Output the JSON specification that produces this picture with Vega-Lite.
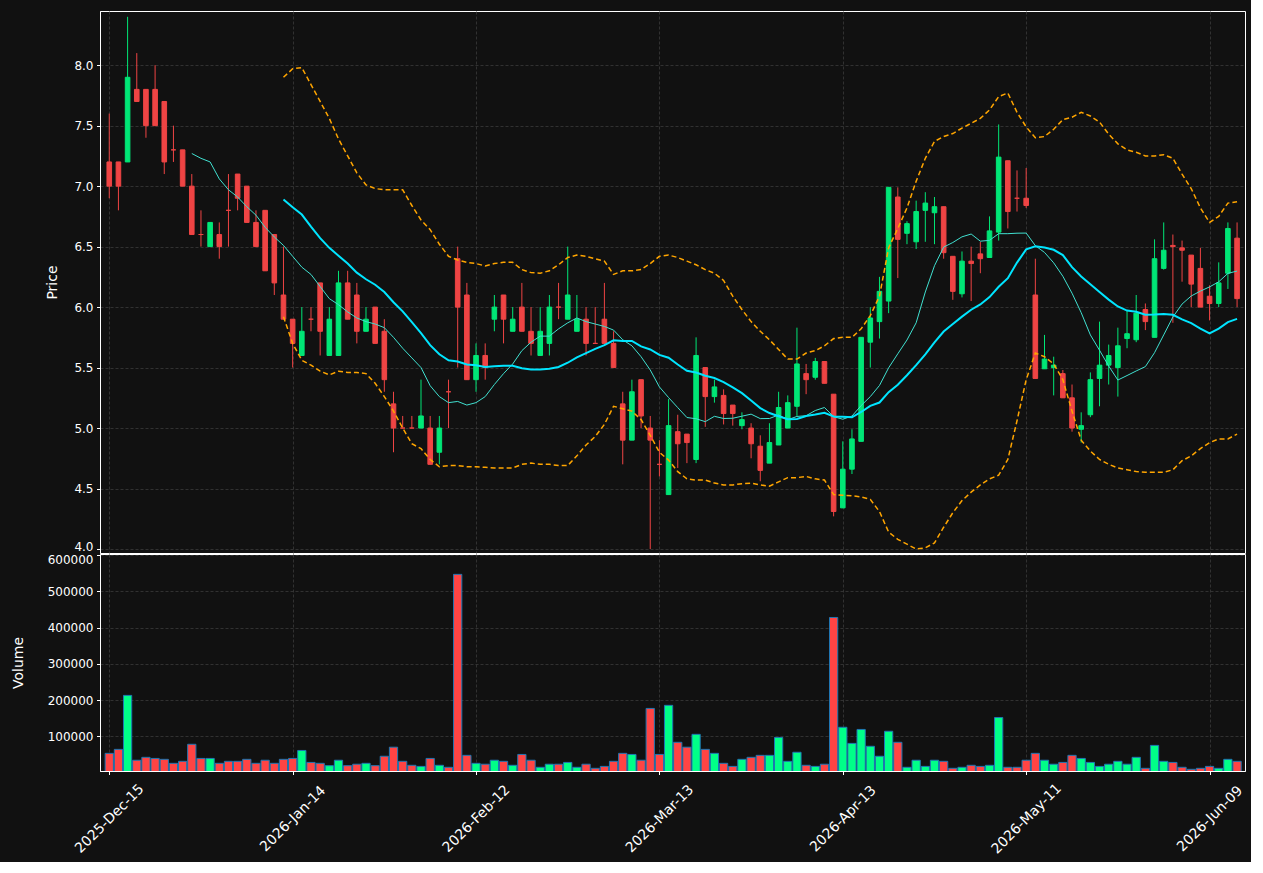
{
  "$schema": "https://vega.github.io/schema/vega-lite/v6.json",
  "background": "#111111",
  "padding": {"left": 10, "top": 10, "right": 5, "bottom": 5},
  "spacing": 1,
  "bounds": "flush",
  "config": {
    "view": {"stroke": "#ffffff", "strokeWidth": 1},
    "axis": {
      "labelColor": "#ffffff", "titleColor": "#ffffff",
      "labelFont": "DejaVu Sans", "titleFont": "DejaVu Sans",
      "labelFontSize": 12, "titleFontSize": 14, "titleFontWeight": "normal",
      "tickColor": "#ffffff", "tickSize": 3.5, "labelPadding": 3.5,
      "domainColor": "#ffffff", "gridColor": "#3a3a3a", "gridDash": [3, 2], "gridWidth": 0.8
    }
  },
  "datasets": {
    "k": [
      {"i":0,"o":7.2,"h":7.6,"l":6.9,"c":7.0,"v":53000},
      {"i":1,"o":7.2,"h":7.2,"l":6.8,"c":7.0,"v":64000},
      {"i":2,"o":7.2,"h":8.4,"l":7.2,"c":7.9,"v":213000},
      {"i":3,"o":7.8,"h":8.1,"l":7.7,"c":7.7,"v":34000},
      {"i":4,"o":7.8,"h":7.8,"l":7.4,"c":7.5,"v":42000},
      {"i":5,"o":7.8,"h":8.0,"l":7.5,"c":7.5,"v":39000},
      {"i":6,"o":7.7,"h":7.7,"l":7.1,"c":7.2,"v":36500},
      {"i":7,"o":7.3,"h":7.5,"l":7.2,"c":7.3,"v":25500},
      {"i":8,"o":7.3,"h":7.3,"l":7.0,"c":7.0,"v":31000},
      {"i":9,"o":7.0,"h":7.1,"l":6.6,"c":6.6,"v":78000,"ma10":7.27},
      {"i":10,"o":6.6,"h":6.8,"l":6.5,"c":6.6,"v":39000,"ma10":7.23},
      {"i":11,"o":6.5,"h":6.7,"l":6.5,"c":6.7,"v":39000,"ma10":7.2},
      {"i":12,"o":6.6,"h":6.7,"l":6.4,"c":6.5,"v":25500,"ma10":7.06},
      {"i":13,"o":6.8,"h":7.1,"l":6.5,"c":6.8,"v":31000,"ma10":6.97},
      {"i":14,"o":7.1,"h":7.1,"l":6.8,"c":6.9,"v":31000,"ma10":6.91},
      {"i":15,"o":7.0,"h":7.0,"l":6.7,"c":6.7,"v":36500,"ma10":6.83},
      {"i":16,"o":6.7,"h":6.8,"l":6.5,"c":6.5,"v":25500,"ma10":6.76},
      {"i":17,"o":6.8,"h":6.8,"l":6.3,"c":6.3,"v":34000,"ma10":6.66},
      {"i":18,"o":6.6,"h":6.6,"l":6.1,"c":6.2,"v":25500,"ma10":6.58},
      {"i":19,"o":6.1,"h":6.5,"l":5.9,"c":5.9,"v":36500,"ma10":6.51,"ma20":6.89,"up":7.9,"lo":5.92},
      {"i":20,"o":5.9,"h":5.9,"l":5.5,"c":5.7,"v":39000,"ma10":6.42,"ma20":6.825,"up":7.97,"lo":5.7},
      {"i":21,"o":5.6,"h":6.0,"l":5.6,"c":5.8,"v":61000,"ma10":6.33,"ma20":6.765,"up":7.98,"lo":5.56},
      {"i":22,"o":5.9,"h":6.0,"l":5.8,"c":5.9,"v":28000,"ma10":6.27,"ma20":6.665,"up":7.84,"lo":5.52},
      {"i":23,"o":6.2,"h":6.2,"l":5.6,"c":5.8,"v":25500,"ma10":6.17,"ma20":6.57,"up":7.7,"lo":5.47},
      {"i":24,"o":5.6,"h":6.0,"l":5.6,"c":5.9,"v":19000,"ma10":6.07,"ma20":6.49,"up":7.56,"lo":5.44},
      {"i":25,"o":5.6,"h":6.3,"l":5.6,"c":6.2,"v":34000,"ma10":6.02,"ma20":6.425,"up":7.39,"lo":5.47},
      {"i":26,"o":6.2,"h":6.3,"l":5.9,"c":5.9,"v":19000,"ma10":5.96,"ma20":6.36,"up":7.25,"lo":5.46},
      {"i":27,"o":6.1,"h":6.2,"l":5.7,"c":5.8,"v":23000,"ma10":5.91,"ma20":6.285,"up":7.11,"lo":5.46},
      {"i":28,"o":5.8,"h":6.0,"l":5.8,"c":5.9,"v":25500,"ma10":5.88,"ma20":6.23,"up":7.01,"lo":5.45},
      {"i":29,"o":6.0,"h":6.0,"l":5.7,"c":5.7,"v":19000,"ma10":5.86,"ma20":6.185,"up":6.98,"lo":5.37},
      {"i":30,"o":5.8,"h":5.9,"l":5.3,"c":5.4,"v":45000,"ma10":5.83,"ma20":6.125,"up":6.97,"lo":5.26},
      {"i":31,"o":5.2,"h":5.3,"l":4.8,"c":5.0,"v":70000,"ma10":5.75,"ma20":6.04,"up":6.97,"lo":5.14},
      {"i":32,"o":5.0,"h":5.1,"l":5.0,"c":5.0,"v":31000,"ma10":5.66,"ma20":5.965,"up":6.97,"lo":5.0},
      {"i":33,"o":5.0,"h":5.1,"l":5.0,"c":5.0,"v":20000,"ma10":5.58,"ma20":5.875,"up":6.84,"lo":4.87},
      {"i":34,"o":5.0,"h":5.4,"l":5.0,"c":5.1,"v":17000,"ma10":5.5,"ma20":5.785,"up":6.72,"lo":4.83},
      {"i":35,"o":5.0,"h":5.1,"l":4.7,"c":4.7,"v":39000,"ma10":5.35,"ma20":5.685,"up":6.64,"lo":4.74},
      {"i":36,"o":4.8,"h":5.1,"l":4.7,"c":5.0,"v":20000,"ma10":5.26,"ma20":5.61,"up":6.52,"lo":4.68},
      {"i":37,"o":5.3,"h":5.4,"l":5.0,"c":5.3,"v":14500,"ma10":5.21,"ma20":5.56,"up":6.42,"lo":4.69},
      {"i":38,"o":6.4,"h":6.5,"l":5.5,"c":6.0,"v":547000,"ma10":5.22,"ma20":5.55,"up":6.39,"lo":4.69},
      {"i":39,"o":6.1,"h":6.2,"l":5.4,"c":5.4,"v":47500,"ma10":5.19,"ma20":5.525,"up":6.37,"lo":4.68},
      {"i":40,"o":5.4,"h":5.7,"l":5.3,"c":5.6,"v":25500,"ma10":5.21,"ma20":5.52,"up":6.36,"lo":4.68},
      {"i":41,"o":5.6,"h":5.7,"l":5.4,"c":5.5,"v":23000,"ma10":5.26,"ma20":5.505,"up":6.34,"lo":4.675},
      {"i":42,"o":5.9,"h":6.1,"l":5.8,"c":6.0,"v":34000,"ma10":5.36,"ma20":5.51,"up":6.36,"lo":4.67},
      {"i":43,"o":6.1,"h":6.1,"l":5.7,"c":5.9,"v":31000,"ma10":5.45,"ma20":5.515,"up":6.37,"lo":4.67},
      {"i":44,"o":5.8,"h":6.0,"l":5.8,"c":5.9,"v":20000,"ma10":5.53,"ma20":5.515,"up":6.37,"lo":4.67},
      {"i":45,"o":6.0,"h":6.2,"l":5.8,"c":5.8,"v":50000,"ma10":5.64,"ma20":5.495,"up":6.31,"lo":4.7},
      {"i":46,"o":5.8,"h":6.0,"l":5.6,"c":5.7,"v":34000,"ma10":5.71,"ma20":5.485,"up":6.285,"lo":4.71},
      {"i":47,"o":5.6,"h":6.0,"l":5.6,"c":5.8,"v":14500,"ma10":5.76,"ma20":5.485,"up":6.28,"lo":4.7},
      {"i":48,"o":5.7,"h":6.1,"l":5.6,"c":6.0,"v":23000,"ma10":5.76,"ma20":5.49,"up":6.3,"lo":4.7},
      {"i":49,"o":6.0,"h":6.2,"l":5.9,"c":6.0,"v":23000,"ma10":5.82,"ma20":5.505,"up":6.35,"lo":4.69},
      {"i":50,"o":5.9,"h":6.5,"l":5.9,"c":6.1,"v":28000,"ma10":5.87,"ma20":5.54,"up":6.41,"lo":4.69},
      {"i":51,"o":5.8,"h":6.1,"l":5.8,"c":5.9,"v":14500,"ma10":5.91,"ma20":5.585,"up":6.43,"lo":4.77},
      {"i":52,"o":5.9,"h":6.0,"l":5.6,"c":5.7,"v":23000,"ma10":5.88,"ma20":5.62,"up":6.42,"lo":4.86},
      {"i":53,"o":5.7,"h":6.0,"l":5.7,"c":5.7,"v":11700,"ma10":5.86,"ma20":5.655,"up":6.4,"lo":4.93},
      {"i":54,"o":5.9,"h":6.2,"l":5.7,"c":5.7,"v":17000,"ma10":5.84,"ma20":5.685,"up":6.38,"lo":5.03},
      {"i":55,"o":5.7,"h":5.8,"l":5.5,"c":5.5,"v":31000,"ma10":5.81,"ma20":5.725,"up":6.27,"lo":5.18},
      {"i":56,"o":5.2,"h":5.3,"l":4.7,"c":4.9,"v":53000,"ma10":5.73,"ma20":5.72,"up":6.3,"lo":5.16},
      {"i":57,"o":4.9,"h":5.4,"l":4.9,"c":5.3,"v":50000,"ma10":5.68,"ma20":5.72,"up":6.3,"lo":5.14},
      {"i":58,"o":5.4,"h":5.4,"l":5.0,"c":5.1,"v":34000,"ma10":5.59,"ma20":5.675,"up":6.31,"lo":5.07},
      {"i":59,"o":5.0,"h":5.1,"l":4.0,"c":4.9,"v":177000,"ma10":5.48,"ma20":5.65,"up":6.36,"lo":4.94},
      {"i":60,"o":4.7,"h":4.9,"l":4.6,"c":4.7,"v":50000,"ma10":5.34,"ma20":5.605,"up":6.42,"lo":4.8},
      {"i":61,"o":4.45,"h":5.24,"l":4.45,"c":5.02,"v":185500,"ma10":5.252,"ma20":5.581,"up":6.43,"lo":4.735},
      {"i":62,"o":4.97,"h":5.11,"l":4.67,"c":4.87,"v":83500,"ma10":5.169,"ma20":5.525,"up":6.41,"lo":4.64},
      {"i":63,"o":4.95,"h":4.95,"l":4.71,"c":4.88,"v":70000,"ma10":5.087,"ma20":5.474,"up":6.38,"lo":4.58},
      {"i":64,"o":4.74,"h":5.75,"l":4.71,"c":5.6,"v":105500,"ma10":5.077,"ma20":5.459,"up":6.35,"lo":4.57},
      {"i":65,"o":5.5,"h":5.5,"l":5.01,"c":5.26,"v":64000,"ma10":5.053,"ma20":5.432,"up":6.31,"lo":4.57},
      {"i":66,"o":5.26,"h":5.4,"l":5.21,"c":5.34,"v":53000,"ma10":5.097,"ma20":5.414,"up":6.28,"lo":4.545},
      {"i":67,"o":5.27,"h":5.32,"l":5.03,"c":5.12,"v":25500,"ma10":5.079,"ma20":5.38,"up":6.22,"lo":4.53},
      {"i":68,"o":5.19,"h":5.19,"l":5.02,"c":5.12,"v":17000,"ma10":5.081,"ma20":5.336,"up":6.09,"lo":4.53},
      {"i":69,"o":5.02,"h":5.13,"l":4.99,"c":5.07,"v":36500,"ma10":5.098,"ma20":5.289,"up":5.98,"lo":4.54},
      {"i":70,"o":5.0,"h":5.04,"l":4.75,"c":4.87,"v":42000,"ma10":5.115,"ma20":5.228,"up":5.88,"lo":4.545},
      {"i":71,"o":4.85,"h":4.94,"l":4.56,"c":4.65,"v":47500,"ma10":5.078,"ma20":5.165,"up":5.8,"lo":4.53},
      {"i":72,"o":4.71,"h":5.04,"l":4.71,"c":4.88,"v":47500,"ma10":5.079,"ma20":5.124,"up":5.73,"lo":4.52},
      {"i":73,"o":4.86,"h":5.3,"l":4.86,"c":5.17,"v":97000,"ma10":5.108,"ma20":5.098,"up":5.65,"lo":4.555},
      {"i":74,"o":5.0,"h":5.27,"l":5.0,"c":5.21,"v":31000,"ma10":5.069,"ma20":5.073,"up":5.57,"lo":4.59},
      {"i":75,"o":5.18,"h":5.83,"l":5.1,"c":5.53,"v":56000,"ma10":5.096,"ma20":5.075,"up":5.57,"lo":4.59},
      {"i":76,"o":5.45,"h":5.53,"l":5.28,"c":5.4,"v":20000,"ma10":5.102,"ma20":5.1,"up":5.62,"lo":4.6},
      {"i":77,"o":5.42,"h":5.58,"l":5.4,"c":5.55,"v":17000,"ma10":5.145,"ma20":5.112,"up":5.64,"lo":4.58},
      {"i":78,"o":5.55,"h":5.55,"l":5.37,"c":5.37,"v":23000,"ma10":5.17,"ma20":5.126,"up":5.68,"lo":4.57},
      {"i":79,"o":5.28,"h":5.28,"l":4.27,"c":4.31,"v":428000,"ma10":5.094,"ma20":5.096,"up":5.74,"lo":4.45},
      {"i":80,"o":4.34,"h":4.89,"l":4.34,"c":4.66,"v":125000,"ma10":5.073,"ma20":5.094,"up":5.75,"lo":4.445},
      {"i":81,"o":4.66,"h":4.99,"l":4.62,"c":4.91,"v":80500,"ma10":5.099,"ma20":5.089,"up":5.75,"lo":4.44},
      {"i":82,"o":4.89,"h":5.75,"l":4.89,"c":5.75,"v":119000,"ma10":5.186,"ma20":5.133,"up":5.82,"lo":4.43},
      {"i":83,"o":5.71,"h":6.0,"l":5.5,"c":5.91,"v":72500,"ma10":5.26,"ma20":5.184,"up":5.93,"lo":4.41},
      {"i":84,"o":5.88,"h":6.25,"l":5.74,"c":6.13,"v":45000,"ma10":5.352,"ma20":5.211,"up":6.09,"lo":4.31},
      {"i":85,"o":6.05,"h":6.99,"l":5.95,"c":6.99,"v":114000,"ma10":5.498,"ma20":5.297,"up":6.49,"lo":4.14},
      {"i":86,"o":6.91,"h":6.99,"l":6.24,"c":6.56,"v":83500,"ma10":5.614,"ma20":5.358,"up":6.65,"lo":4.08},
      {"i":87,"o":6.61,"h":6.71,"l":6.52,"c":6.69,"v":14500,"ma10":5.728,"ma20":5.437,"up":6.82,"lo":4.04},
      {"i":88,"o":6.54,"h":6.88,"l":6.48,"c":6.79,"v":34000,"ma10":5.87,"ma20":5.52,"up":7.04,"lo":4.0},
      {"i":89,"o":6.8,"h":6.95,"l":6.54,"c":6.86,"v":17000,"ma10":6.125,"ma20":5.61,"up":7.23,"lo":4.01},
      {"i":90,"o":6.78,"h":6.91,"l":6.52,"c":6.83,"v":34000,"ma10":6.342,"ma20":5.708,"up":7.37,"lo":4.05},
      {"i":91,"o":6.83,"h":6.83,"l":6.4,"c":6.45,"v":31000,"ma10":6.496,"ma20":5.798,"up":7.41,"lo":4.18},
      {"i":92,"o":6.42,"h":6.42,"l":6.06,"c":6.13,"v":11700,"ma10":6.534,"ma20":5.86,"up":7.435,"lo":4.3},
      {"i":93,"o":6.11,"h":6.46,"l":6.08,"c":6.38,"v":14500,"ma10":6.581,"ma20":5.921,"up":7.48,"lo":4.4},
      {"i":94,"o":6.38,"h":6.5,"l":6.05,"c":6.36,"v":20000,"ma10":6.604,"ma20":5.978,"up":7.52,"lo":4.47},
      {"i":95,"o":6.44,"h":6.54,"l":6.28,"c":6.4,"v":17000,"ma10":6.545,"ma20":6.022,"up":7.56,"lo":4.53},
      {"i":96,"o":6.41,"h":6.75,"l":6.41,"c":6.63,"v":20000,"ma10":6.552,"ma20":6.083,"up":7.63,"lo":4.58},
      {"i":97,"o":6.62,"h":7.51,"l":6.55,"c":7.24,"v":152000,"ma10":6.607,"ma20":6.168,"up":7.74,"lo":4.61},
      {"i":98,"o":7.21,"h":7.21,"l":6.65,"c":6.79,"v":14500,"ma10":6.607,"ma20":6.239,"up":7.77,"lo":4.74},
      {"i":99,"o":6.9,"h":7.13,"l":6.79,"c":6.9,"v":14500,"ma10":6.611,"ma20":6.368,"up":7.61,"lo":5.06},
      {"i":100,"o":6.9,"h":7.15,"l":6.82,"c":6.84,"v":34000,"ma10":6.612,"ma20":6.477,"up":7.49,"lo":5.4},
      {"i":101,"o":6.1,"h":6.4,"l":5.41,"c":5.41,"v":53000,"ma10":6.508,"ma20":6.502,"up":7.4,"lo":5.62},
      {"i":102,"o":5.49,"h":5.77,"l":5.49,"c":5.57,"v":34000,"ma10":6.452,"ma20":6.493,"up":7.41,"lo":5.59},
      {"i":103,"o":5.5,"h":5.59,"l":5.27,"c":5.52,"v":23000,"ma10":6.366,"ma20":6.474,"up":7.47,"lo":5.53},
      {"i":104,"o":5.45,"h":5.48,"l":5.25,"c":5.25,"v":28000,"ma10":6.255,"ma20":6.43,"up":7.55,"lo":5.4},
      {"i":105,"o":5.25,"h":5.36,"l":4.97,"c":5.0,"v":47500,"ma10":6.115,"ma20":6.33,"up":7.57,"lo":5.14},
      {"i":106,"o":4.99,"h":5.13,"l":4.88,"c":5.02,"v":39000,"ma10":5.954,"ma20":6.253,"up":7.61,"lo":4.9},
      {"i":107,"o":5.11,"h":5.46,"l":5.09,"c":5.4,"v":28000,"ma10":5.77,"ma20":6.189,"up":7.58,"lo":4.81},
      {"i":108,"o":5.41,"h":5.88,"l":5.18,"c":5.52,"v":17000,"ma10":5.643,"ma20":6.125,"up":7.53,"lo":4.74},
      {"i":109,"o":5.52,"h":5.69,"l":5.36,"c":5.6,"v":23000,"ma10":5.513,"ma20":6.062,"up":7.43,"lo":4.7},
      {"i":110,"o":5.5,"h":5.83,"l":5.26,"c":5.68,"v":31000,"ma10":5.397,"ma20":6.005,"up":7.35,"lo":4.67},
      {"i":111,"o":5.74,"h":5.97,"l":5.66,"c":5.78,"v":23000,"ma10":5.434,"ma20":5.971,"up":7.3,"lo":4.655},
      {"i":112,"o":5.73,"h":6.1,"l":5.71,"c":5.95,"v":42000,"ma10":5.472,"ma20":5.962,"up":7.28,"lo":4.64},
      {"i":113,"o":5.98,"h":6.03,"l":5.81,"c":5.88,"v":11700,"ma10":5.508,"ma20":5.937,"up":7.25,"lo":4.635},
      {"i":114,"o":5.75,"h":6.56,"l":5.75,"c":6.4,"v":75000,"ma10":5.623,"ma20":5.939,"up":7.25,"lo":4.635},
      {"i":115,"o":6.32,"h":6.7,"l":6.31,"c":6.47,"v":31000,"ma10":5.77,"ma20":5.943,"up":7.26,"lo":4.635},
      {"i":116,"o":6.51,"h":6.6,"l":5.87,"c":6.5,"v":28000,"ma10":5.918,"ma20":5.936,"up":7.23,"lo":4.655},
      {"i":117,"o":6.49,"h":6.55,"l":6.21,"c":6.47,"v":14500,"ma10":6.025,"ma20":5.898,"up":7.1,"lo":4.73},
      {"i":118,"o":6.43,"h":6.43,"l":6.0,"c":6.19,"v":9000,"ma10":6.092,"ma20":5.868,"up":6.98,"lo":4.77},
      {"i":119,"o":6.32,"h":6.49,"l":6.0,"c":6.0,"v":11700,"ma10":6.132,"ma20":5.823,"up":6.82,"lo":4.83},
      {"i":120,"o":6.09,"h":6.18,"l":5.89,"c":6.03,"v":17000,"ma10":6.167,"ma20":5.782,"up":6.7,"lo":4.88},
      {"i":121,"o":6.03,"h":6.37,"l":6.0,"c":6.2,"v":11700,"ma10":6.209,"ma20":5.822,"up":6.75,"lo":4.91},
      {"i":122,"o":6.28,"h":6.7,"l":6.15,"c":6.65,"v":36500,"ma10":6.279,"ma20":5.876,"up":6.86,"lo":4.91},
      {"i":123,"o":6.57,"h":6.7,"l":6.0,"c":6.07,"v":31000,"ma10":6.298,"ma20":5.903,"up":6.87,"lo":4.95}
    ]
  },
  "data": {"name": "k"},
  "vconcat": [
    {
      "width": 1145,
      "height": 542,
      "encoding": {
        "x": {
          "field": "i", "type": "quantitative",
          "scale": {"domain": [-0.465, 123.32], "nice": false, "zero": false},
          "axis": {"values": [0, 20, 40, 60, 80, 100, 120], "labels": false, "ticks": false, "domain": false, "grid": true, "title": null}
        }
      },
      "layer": [
        {
          "mark": {"type": "rule", "strokeWidth": 1},
          "encoding": {
            "y": {
              "field": "l", "type": "quantitative",
              "scale": {"domain": [3.967, 8.448], "nice": false, "zero": false},
              "axis": {
                "values": [4.0, 4.5, 5.0, 5.5, 6.0, 6.5, 7.0, 7.5, 8.0], "format": ".1f", "title": "Price", "grid": true, "titlePadding": 14,
                "labelOffset": {"condition": {"test": "datum.value < 4.2", "value": -3}, "value": 0}
              }
            },
            "y2": {"field": "h"},
            "color": {"condition": {"test": "datum.c > datum.o", "value": "#00e676"}, "value": "#ef4444"}
          }
        },
        {
          "mark": {"type": "bar", "size": 4.6, "strokeWidth": 1},
          "encoding": {
            "y": {"field": "o", "type": "quantitative"},
            "y2": {"field": "c"},
            "color": {"condition": {"test": "datum.c > datum.o", "value": "#00e676"}, "value": "#ef4444"},
            "stroke": {"condition": {"test": "datum.c > datum.o", "value": "#00e676"}, "value": "#ef4444"}
          }
        },
        {
          "mark": {"type": "line", "color": "#40e0d0", "strokeWidth": 1},
          "encoding": {"y": {"field": "ma10", "type": "quantitative"}}
        },
        {
          "mark": {"type": "line", "color": "#00e5ff", "strokeWidth": 2},
          "encoding": {"y": {"field": "ma20", "type": "quantitative"}}
        },
        {
          "mark": {"type": "line", "color": "#ffa500", "strokeWidth": 1.5, "strokeDash": [5, 3]},
          "encoding": {"y": {"field": "up", "type": "quantitative"}}
        },
        {
          "mark": {"type": "line", "color": "#ffa500", "strokeWidth": 1.5, "strokeDash": [5, 3]},
          "encoding": {"y": {"field": "lo", "type": "quantitative"}}
        }
      ]
    },
    {
      "width": 1145,
      "height": 217,
      "mark": {"type": "bar", "size": 8.25, "stroke": "#1f77b4", "strokeWidth": 1, "clip": true},
      "encoding": {
        "x": {
          "field": "i", "type": "quantitative",
          "scale": {"domain": [-0.465, 123.32], "nice": false, "zero": false},
          "axis": {
            "values": [0, 20, 40, 60, 80, 100, 120], "grid": true, "title": null,
            "labelExpr": "['2025-Dec-15','2026-Jan-14','2026-Feb-12','2026-Mar-13','2026-Apr-13','2026-May-11','2026-Jun-09'][round(datum.value / 20)]",
            "labelAngle": -45, "labelAlign": "center", "labelBaseline": "middle", "labelPadding": 44, "labelFontSize": 14, "labelOverlap": false, "labelFlush": false
          }
        },
        "y": {
          "field": "v", "type": "quantitative",
          "scale": {"domain": [4300, 603200], "nice": false, "zero": false},
          "axis": {
            "values": [100000, 200000, 300000, 400000, 500000, 600000], "format": "d", "title": "Volume", "grid": true, "titlePadding": 22,
            "labelOffset": {"condition": {"test": "datum.value > 550000", "value": 4}, "value": 0}
          }
        },
        "color": {"condition": {"test": "datum.c > datum.o", "value": "#00ff88"}, "value": "#ff4444"}
      }
    }
  ]
}
